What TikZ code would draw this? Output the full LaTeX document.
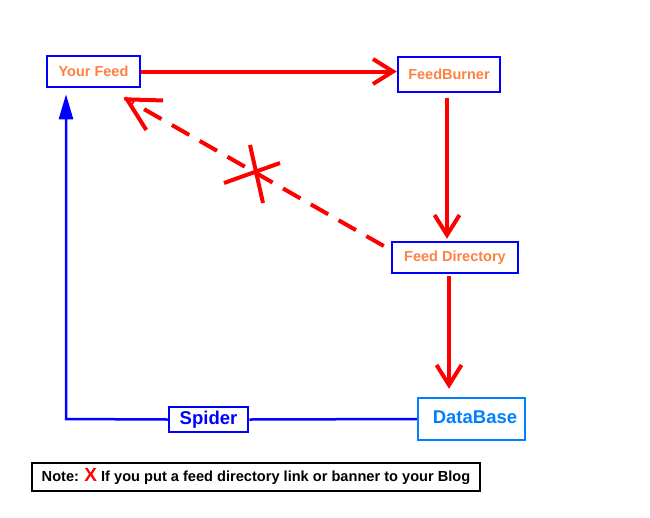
\documentclass[tikz,border=0pt]{standalone}
\usepackage{fontspec}
\setmainfont{Liberation Sans}
\usetikzlibrary{arrows.meta,calc}
\definecolor{feedorange}{RGB}{255,128,64}
\definecolor{dbblue}{RGB}{0,128,255}
\begin{document}
\begin{tikzpicture}[x=1pt,y=-1pt,
    box/.style={draw=blue,line width=2.5pt,text=feedorange,font=\bfseries\fontsize{14.5}{16}\selectfont,inner sep=0pt},
    bigbox/.style={box,font=\bfseries\fontsize{18.5}{20}\selectfont},
    redline/.style={red,line width=4pt},
    bluline/.style={blue,line width=2.5pt},
    barb/.style={-{Straight Barb[length=20pt,width=25pt,line width=4pt]}},
    bigbarb/.style={-{Straight Barb[length=32pt,width=34pt,line width=4pt]}}]
	\useasboundingbox (0,0) rectangle (650,517);
	%%%%%%%% boxes
	\node[box,minimum width=93pt,minimum height=31pt] (yf) at (93.5,71.5) {Your Feed};
	\node[box,minimum width=102pt,minimum height=35pt] (fb) at (449,74.5) {FeedBurner};
	\node[box,minimum width=126pt,minimum height=31pt] (fd) at (455,257.5) {Feed Directory};
	\node[bigbox,draw=dbblue,text=dbblue,minimum width=107pt,minimum height=42pt] (db) at (471.5,419) {\raisebox{4pt}{\hspace{7pt}DataBase}};
	\node[bigbox,text=blue,minimum width=79pt,minimum height=25pt] (sp) at (208.5,419.5) {Spider};
	\node[draw,line width=2pt,minimum width=448pt,minimum height=28pt,inner sep=0pt,font=\bfseries\fontsize{14.6}{16}\selectfont] (note) at (256,477)
		{Note: {\color{red}\fontsize{19}{19}\selectfont X} If you put a feed directory link or banner to your Blog};
	%%%%%%%% red arrows
	\draw[redline,barb] (yf.east) -- (yf.east -| fb.west);
	\draw[redline,barb,shorten <=5pt,shorten >=2pt] (fb.south -| 447,0) -- (fd.north -| 447,0);
	\draw[redline,barb,shorten <=2pt,shorten >=8pt] (fd.south -| 449,0) -- (db.north -| 449,0);
	\coordinate (link) at ([xshift=-7pt,yshift=11.5pt]fd.west);
	\coordinate (linkend) at ([xshift=-18pt,yshift=-9pt]yf.south east);
	\draw[redline,dash pattern=on 20pt off 12pt] (link) -- ($(linkend)!10pt!(link)$);
	\draw[redline,bigbarb] ($(linkend)!2pt!(link)$) -- (linkend);
	\draw[redline] (250,145)--(263,203) (224,183)--(280,163);
	%%%%%%%% spider loop
	\coordinate (corner) at (66,419);
	\draw[bluline] (db.west) -- (sp.east);
	\draw[bluline,-{Triangle[length=25pt,width=14pt]},shorten >=6pt] (sp.west) -- (corner) -- (corner |- yf.south);
\end{tikzpicture}
\end{document}
